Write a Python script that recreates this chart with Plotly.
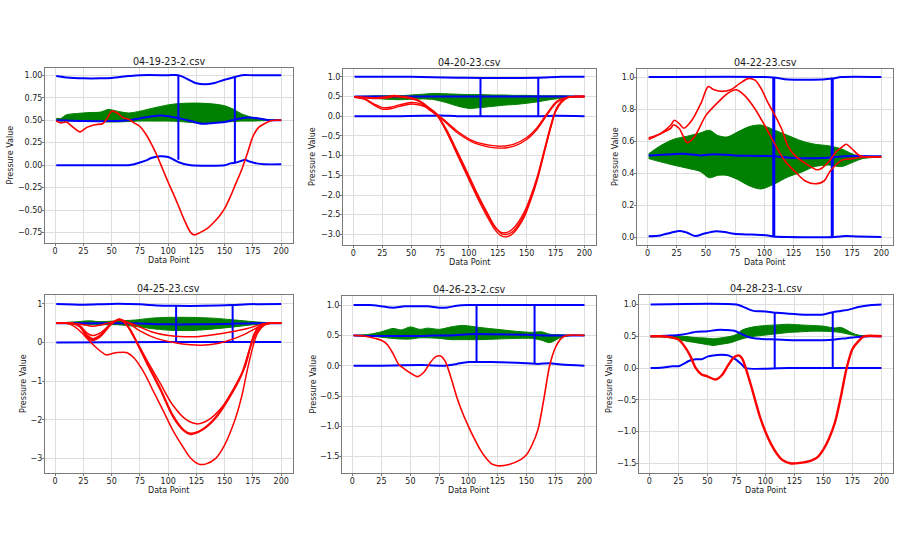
import plotly.graph_objects as go

# ---------------- data ----------------
TITLES = ["04-19-23-2.csv", "04-20-23.csv", "04-22-23.csv",
          "04-25-23.csv", "04-26-23-2.csv", "04-28-23-1.csv"]
X_TICKS = [0, 25, 50, 75, 100, 125, 150, 175, 200]
X_RANGE = [-8.95, 209.95]

# ---- panel 1 : 04-19-23-2.csv
P1_RED_X = [1, 5, 10, 16, 22, 28, 35, 42, 46, 50, 55, 60, 65, 70, 75, 80, 85, 90, 95, 100,
            105, 110, 115, 120, 123, 128, 135, 140, 145, 150, 155, 160, 165, 170, 175, 180, 185, 190, 195, 200]
P1_RED_Y = [0.49, 0.47, 0.48, 0.42, 0.37, 0.42, 0.45, 0.46, 0.52, 0.60, 0.58, 0.53, 0.51, 0.47, 0.43, 0.35, 0.24, 0.11, -0.04, -0.19,
            -0.33, -0.48, -0.63, -0.75, -0.775, -0.75, -0.70, -0.64, -0.57, -0.48, -0.35, -0.20, -0.05, 0.13, 0.32, 0.42, 0.46, 0.49, 0.50, 0.50]
P1_TOP_X = [1, 10, 25, 40, 50, 65, 75, 100, 109, 115, 125, 133, 140, 150, 159, 165, 175, 200]
P1_TOP_Y = [0.99, 0.975, 0.965, 0.965, 0.97, 0.99, 1.0, 1.0, 1.0, 0.97, 0.91, 0.90, 0.91, 0.95, 0.98, 1.0, 1.0, 1.0]
P1_MID_X = [1, 25, 50, 65, 75, 90, 100, 110, 120, 130, 140, 150, 160, 170, 180, 190, 200]
P1_MID_Y = [0.50, 0.49, 0.49, 0.50, 0.52, 0.55, 0.545, 0.52, 0.49, 0.46, 0.47, 0.48, 0.51, 0.53, 0.52, 0.50, 0.50]
P1_BOT_X = [1, 30, 65, 70, 75, 80, 85, 93, 100, 105, 110, 115, 120, 150, 155, 160, 165, 168, 172, 178, 185, 200]
P1_BOT_Y = [0.0, 0.0, 0.0, 0.01, 0.03, 0.05, 0.08, 0.10, 0.09, 0.06, 0.03, 0.01, 0.0, 0.0, 0.02, 0.03, 0.05, 0.06, 0.04, 0.02, 0.01, 0.01]
P1_VX = [109, 159]
P1_VTOP = [1.0, 0.98]
P1_VBOT = [0.06, 0.03]
P1_BAND_X = [1, 5, 10, 20, 30, 40, 47, 55, 65, 75, 85, 100, 110, 125, 140, 150, 158, 165, 175, 185, 200]
P1_BAND_UP = [0.52, 0.52, 0.56, 0.575, 0.585, 0.59, 0.62, 0.60, 0.58, 0.60, 0.63, 0.67, 0.685, 0.69, 0.68, 0.66, 0.62, 0.57, 0.53, 0.51, 0.50]
P1_BAND_LO = [0.49, 0.49, 0.49, 0.49, 0.49, 0.485, 0.48, 0.48, 0.485, 0.49, 0.49, 0.49, 0.485, 0.47, 0.47, 0.48, 0.485, 0.49, 0.49, 0.495, 0.50]

# ---- panel 2 : 04-20-23.csv
P2_RA_X = [1, 10, 18, 25, 32, 40, 50, 55, 62, 70, 74, 78, 90, 104, 119, 127, 139, 150, 159, 168, 176, 185, 195, 200]
P2_RA1_Y = [0.48, 0.44, 0.31, 0.22, 0.23, 0.29, 0.35, 0.34, 0.27, 0.1, 0.02, -0.08, -0.38, -0.63, -0.74, -0.76, -0.71, -0.54, -0.29, 0.09, 0.38, 0.48, 0.5, 0.5]
P2_RA2_Y = [0.48, 0.43, 0.28, 0.18, 0.19, 0.25, 0.31, 0.3, 0.24, 0.07, -0.01, -0.11, -0.42, -0.67, -0.79, -0.81, -0.76, -0.59, -0.33, 0.05, 0.35, 0.47, 0.5, 0.5]
P2_RB_X = [1, 10, 20, 30, 35, 40, 50, 58, 65, 72, 81, 90, 99, 107, 116, 122, 128, 133, 139, 148,
           153, 159, 165, 171, 175, 180, 185, 191, 200]
P2_RB1_Y = [0.49, 0.48, 0.46, 0.47, 0.5, 0.49, 0.45, 0.36, 0.2, 0.03, -0.4, -0.95, -1.5, -2.0, -2.5, -2.8, -2.95, -2.95, -2.83, -2.43,
            -2.07, -1.55, -0.88, -0.21, 0.16, 0.38, 0.48, 0.5, 0.5]
P2_RB2_Y = [0.49, 0.47, 0.45, 0.48, 0.52, 0.5, 0.46, 0.37, 0.22, 0.05, -0.36, -0.9, -1.45, -1.95, -2.46, -2.78, -2.98, -3.0, -2.9, -2.5,
            -2.13, -1.6, -0.92, -0.25, 0.13, 0.36, 0.47, 0.5, 0.5]
P2_RB3_Y = [0.49, 0.48, 0.47, 0.5, 0.53, 0.51, 0.47, 0.38, 0.23, 0.06, -0.42, -0.98, -1.55, -2.05, -2.56, -2.86, -3.04, -3.06, -2.95, -2.55,
            -2.17, -1.63, -0.95, -0.27, 0.12, 0.35, 0.47, 0.5, 0.5]
P2_TOP_X = [1, 50, 90, 110, 130, 160, 180, 200]
P2_TOP_Y = [1.0, 1.0, 0.98, 0.97, 0.97, 0.98, 1.0, 1.0]
P2_MID_X = [1, 100, 200]
P2_MID_Y = [0.5, 0.5, 0.5]
P2_BOT_X = [1, 40, 60, 75, 90, 110, 140, 160, 175, 200]
P2_BOT_Y = [0.0, 0.0, 0.01, 0.02, 0.0, 0.0, 0.0, 0.0, 0.01, 0.0]
P2_VX = [110, 160]
P2_VTOP = [0.97, 0.98]
P2_VBOT = [0.0, 0.0]
P2_BAND_X = [1, 10, 20, 30, 40, 50, 60, 70, 80, 90, 100, 110, 120, 130, 140, 150, 160, 170, 180, 190, 200]
P2_BAND_UP = [0.50, 0.51, 0.52, 0.52, 0.52, 0.54, 0.56, 0.58, 0.57, 0.56, 0.55, 0.55, 0.54, 0.54, 0.53, 0.53, 0.52, 0.52, 0.52, 0.51, 0.50]
P2_BAND_LO = [0.48, 0.47, 0.45, 0.43, 0.42, 0.43, 0.44, 0.42, 0.35, 0.26, 0.20, 0.22, 0.25, 0.28, 0.30, 0.33, 0.37, 0.42, 0.46, 0.49, 0.50]

# ---- panel 3 : 04-22-23.csv
P3_RA_X = [1, 11, 20, 23, 27, 31, 38, 46, 52, 57, 64, 71, 79, 86, 92, 97, 103, 109, 115, 120,
           126, 135, 145, 149, 155, 161, 166, 170, 175, 181, 189, 200]
P3_RA_Y = [0.62, 0.646, 0.70, 0.73, 0.71, 0.68, 0.73, 0.84, 0.94, 0.92, 0.91, 0.92, 0.96, 0.99, 0.98, 0.93, 0.84, 0.76, 0.67, 0.57,
           0.51, 0.46, 0.42, 0.43, 0.47, 0.53, 0.56, 0.58, 0.55, 0.51, 0.5, 0.5]
P3_RB_X = [1, 10, 20, 22, 27, 34, 40, 50, 60, 69, 76, 83, 92, 100, 109, 117, 126, 135, 143, 151,
           156, 161, 166, 175, 185, 200]
P3_RB_Y = [0.61, 0.64, 0.68, 0.70, 0.68, 0.59, 0.625, 0.76, 0.84, 0.90, 0.92, 0.885, 0.80, 0.70, 0.58, 0.48, 0.41, 0.35, 0.333, 0.35,
           0.41, 0.45, 0.48, 0.49, 0.5, 0.5]
P3_TOP_X = [1, 100, 110, 120, 150, 158, 166, 200]
P3_TOP_Y = [1.0, 1.0, 0.995, 0.985, 0.985, 0.99, 1.0, 1.0]
P3_MID_X = [1, 17, 31, 45, 57, 74, 103, 126, 149, 160, 175, 200]
P3_MID_Y = [0.51, 0.515, 0.52, 0.51, 0.517, 0.51, 0.506, 0.494, 0.494, 0.5, 0.506, 0.504]
P3_BOT_X = [1, 11, 20, 28, 34, 41, 48, 57, 66, 74, 89, 103, 108, 120, 160, 169, 180, 200]
P3_BOT_Y = [0.005, 0.01, 0.027, 0.0375, 0.027, 0.006, 0.02, 0.035, 0.031, 0.02, 0.015, 0.01, 0.003, 0.0, 0.0, 0.006, 0.003, 0.0]
P3_VX = [108, 158]
P3_VTOP = [1.0, 0.995]
P3_VBOT = [0.0, 0.0]
P3_BAND_X = [1, 11, 22, 34, 45, 53, 60, 68, 77, 87, 97, 109, 120, 132, 143, 155, 166, 175, 184, 200]
P3_BAND_UP = [0.52, 0.57, 0.61, 0.63, 0.65, 0.667, 0.635, 0.625, 0.656, 0.69, 0.70, 0.667, 0.635, 0.6, 0.58, 0.57, 0.55, 0.52, 0.5, 0.5]
P3_BAND_LO = [0.49, 0.47, 0.45, 0.43, 0.41, 0.37, 0.385, 0.385, 0.36, 0.32, 0.30, 0.333, 0.375, 0.406, 0.44, 0.45, 0.44, 0.465, 0.49, 0.5]

# ---- panel 4 : 04-25-23.csv
P4_R1_X = [1, 15, 25, 33, 40, 50, 57, 65, 75, 85, 100, 115, 125, 140, 155, 170, 180, 190, 200]
P4_R1_Y = [0.5, 0.5, 0.46, 0.42, 0.45, 0.53, 0.58, 0.52, 0.4, 0.28, 0.18, 0.15, 0.15, 0.2, 0.27, 0.36, 0.45, 0.5, 0.5]
P4_R2_X = [1, 15, 22, 28, 33, 40, 50, 57, 65, 75, 90, 105, 120, 130, 145, 160, 170, 180, 190, 200]
P4_R2_Y = [0.5, 0.5, 0.43, 0.25, 0.18, 0.25, 0.5, 0.6, 0.5, 0.3, 0.1, 0.0, -0.06, -0.07, -0.02, 0.12, 0.25, 0.4, 0.5, 0.5]
P4_R3_X = [1, 15, 22, 28, 33, 40, 50, 57, 65, 73, 81, 93, 104, 116, 126, 136, 148, 159, 168, 173, 178, 184, 190, 200]
P4_R3_Y = [0.5, 0.5, 0.42, 0.2, 0.1, 0.2, 0.5, 0.6, 0.4, -0.02, -0.45, -1.06, -1.62, -2.0, -2.11, -2.0, -1.66, -1.14, -0.63, -0.1, 0.24, 0.45, 0.5, 0.5]
P4_R4_X = [1, 15, 22, 28, 33, 40, 50, 57, 64, 73, 81, 93, 104, 113, 120, 130, 142, 153, 165, 172, 176, 182, 190, 200]
P4_R4_Y = [0.5, 0.5, 0.4, 0.15, 0.05, 0.15, 0.48, 0.6, 0.42, -0.06, -0.54, -1.23, -1.92, -2.27, -2.38, -2.27, -1.96, -1.49, -0.84, -0.19, 0.2, 0.45, 0.5, 0.5]
P4_R4B_Y = [0.5, 0.5, 0.41, 0.17, 0.08, 0.17, 0.49, 0.59, 0.43, -0.03, -0.5, -1.18, -1.87, -2.24, -2.35, -2.25, -1.93, -1.45, -0.8, -0.16, 0.22, 0.46, 0.5, 0.5]
P4_R5_X = [1, 10, 15, 20, 24, 30, 37, 45, 50, 55, 63, 70, 79, 87, 96, 104, 113, 120, 127, 133,
           142, 150, 159, 165, 170, 175, 179, 185, 190, 200]
P4_R5_Y = [0.5, 0.5, 0.45, 0.35, 0.24, 0.05, -0.15, -0.32, -0.29, -0.26, -0.26, -0.41, -0.8, -1.27, -1.79, -2.27, -2.7, -3.0, -3.15, -3.15,
           -3.0, -2.65, -2.01, -1.4, -0.71, -0.1, 0.24, 0.45, 0.5, 0.5]
P4_TOP_X = [1, 25, 50, 75, 90, 107, 130, 157, 170, 200]
P4_TOP_Y = [1.0, 0.98, 1.0, 0.99, 0.96, 0.95, 0.95, 0.97, 0.99, 1.0]
P4_MID_X = [1, 50, 75, 100, 125, 150, 175, 200]
P4_MID_Y = [0.5, 0.5, 0.49, 0.47, 0.47, 0.48, 0.5, 0.5]
P4_BOT_X = [1, 100, 150, 200]
P4_BOT_Y = [0.0, 0.01, 0.01, 0.01]
P4_VX = [107, 157]
P4_VTOP = [0.95, 0.97]
P4_VBOT = [0.02, 0.02]
P4_BAND_X = [1, 10, 20, 30, 40, 55, 70, 85, 100, 120, 140, 160, 175, 190, 200]
P4_BAND_UP = [0.50, 0.52, 0.54, 0.56, 0.54, 0.56, 0.58, 0.63, 0.65, 0.65, 0.63, 0.58, 0.54, 0.51, 0.50]
P4_BAND_LO = [0.50, 0.49, 0.47, 0.46, 0.46, 0.46, 0.42, 0.36, 0.32, 0.31, 0.35, 0.41, 0.46, 0.49, 0.50]

# ---- panel 5 : 04-26-23-2.csv
P5_RED_X = [1, 10, 20, 25, 30, 35, 40, 45, 50, 56, 62, 67, 72, 76, 80, 85, 90, 95, 100, 105,
            110, 115, 120, 125, 135, 145, 150, 155, 160, 165, 170, 175, 180, 185, 200]
P5_RED_Y = [0.5, 0.49, 0.45, 0.42, 0.35, 0.2, 0.02, -0.055, -0.12, -0.18, -0.1, 0.05, 0.15, 0.16, 0.07, -0.2, -0.52, -0.78, -1.0, -1.2,
            -1.38, -1.52, -1.62, -1.65, -1.63, -1.55, -1.47, -1.3, -1.05, -0.55, 0.0, 0.3, 0.45, 0.5, 0.5]
P5_TOP_X = [1, 15, 25, 35, 45, 55, 65, 75, 82, 90, 100, 200]
P5_TOP_Y = [1.0, 1.0, 0.98, 0.956, 0.98, 0.98, 0.98, 0.955, 0.96, 0.99, 1.0, 1.0]
P5_MID_X = [1, 20, 40, 60, 70, 85, 100, 120, 150, 165, 200]
P5_MID_Y = [0.5, 0.49, 0.49, 0.49, 0.5, 0.5, 0.52, 0.52, 0.51, 0.5, 0.5]
P5_BOT_X = [1, 20, 60, 80, 90, 100, 120, 150, 160, 170, 180, 200]
P5_BOT_Y = [0.0, 0.0, 0.01, 0.0, 0.03, 0.06, 0.06, 0.04, 0.03, 0.04, 0.02, 0.0]
P5_VX = [107, 157]
P5_VTOP = [1.0, 1.0]
P5_VBOT = [0.066, 0.027]
P5_BAND_X = [1, 15, 25, 35, 42, 50, 58, 65, 75, 85, 95, 110, 125, 140, 155, 163, 170, 180, 190, 200]
P5_BAND_UP = [0.5, 0.52, 0.56, 0.615, 0.59, 0.64, 0.6, 0.62, 0.6, 0.64, 0.665, 0.63, 0.6, 0.57, 0.55, 0.56, 0.52, 0.51, 0.5, 0.5]
P5_BAND_LO = [0.5, 0.49, 0.47, 0.45, 0.44, 0.44, 0.46, 0.46, 0.45, 0.43, 0.43, 0.43, 0.44, 0.45, 0.45, 0.42, 0.38, 0.47, 0.5, 0.5]

# ---- panel 6 : 04-28-23-1.csv
P6_RED_X = [1, 10, 20, 25, 30, 35, 40, 45, 50, 57, 63, 68, 73, 77, 80, 83, 88, 95, 100, 105,
            110, 115, 122, 130, 140, 145, 150, 155, 160, 165, 170, 175, 180, 185, 200]
P6_RED_Y = [0.5, 0.5, 0.48, 0.45, 0.35, 0.2, 0.0, -0.1, -0.13, -0.18, -0.1, 0.05, 0.17, 0.2, 0.15, 0.0, -0.3, -0.75, -1.0, -1.2,
            -1.35, -1.45, -1.5, -1.49, -1.45, -1.4, -1.28, -1.1, -0.85, -0.45, 0.0, 0.3, 0.42, 0.5, 0.5]
P6_TOP_X = [1, 75, 80, 85, 90, 100, 110, 125, 135, 150, 158, 165, 172, 180, 190, 200]
P6_TOP_Y = [1.0, 1.0, 0.97, 0.93, 0.9, 0.89, 0.87, 0.85, 0.84, 0.845, 0.88, 0.9, 0.92, 0.96, 0.99, 1.0]
P6_MID_X = [1, 15, 25, 35, 40, 50, 58, 65, 72, 78, 85, 95, 110, 125, 140, 150, 160, 170, 180, 190, 200]
P6_MID_Y = [0.5, 0.51, 0.52, 0.55, 0.57, 0.58, 0.6, 0.6, 0.59, 0.55, 0.49, 0.46, 0.45, 0.44, 0.44, 0.44, 0.45, 0.47, 0.49, 0.5, 0.5]
P6_BOT_X = [1, 10, 20, 25, 35, 40, 45, 50, 55, 62, 68, 75, 80, 83, 120, 200]
P6_BOT_Y = [0.0, 0.005, 0.03, 0.03, 0.12, 0.14, 0.14, 0.18, 0.2, 0.21, 0.2, 0.13, 0.05, 0.0, 0.0, 0.0]
P6_VX = [108, 158]
P6_VTOP = [0.87, 0.88]
P6_VBOT = [0.0, 0.0]
P6_BAND_X = [1, 10, 20, 30, 40, 50, 55, 60, 70, 75, 80, 90, 100, 110, 120, 130, 140, 150, 160, 165, 170, 175, 180, 190, 200]
P6_BAND_UP = [0.5, 0.51, 0.51, 0.5, 0.48, 0.47, 0.46, 0.47, 0.5, 0.53, 0.6, 0.65, 0.67, 0.68, 0.69, 0.68, 0.67, 0.66, 0.63, 0.64, 0.6, 0.55, 0.52, 0.5, 0.5]
P6_BAND_LO = [0.49, 0.49, 0.47, 0.43, 0.4, 0.37, 0.355, 0.37, 0.4, 0.43, 0.46, 0.5, 0.52, 0.54, 0.56, 0.57, 0.58, 0.58, 0.57, 0.56, 0.54, 0.52, 0.51, 0.5, 0.5]

# y tick labels per panel
P1_YTICKS = [-0.75, -0.5, -0.25, 0.0, 0.25, 0.5, 0.75, 1.0]
P2_YTICKS = [-3.0, -2.5, -2.0, -1.5, -1.0, -0.5, 0.0, 0.5, 1.0]
P3_YTICKS = [0.0, 0.2, 0.4, 0.6, 0.8, 1.0]
P4_YTICKS = [-3, -2, -1, 0, 1]
P5_YTICKS = [-1.5, -1.0, -0.5, 0.0, 0.5, 1.0]
P6_YTICKS = [-1.5, -1.0, -0.5, 0.0, 0.5, 1.0]

# ---------------- styling / layout ----------------
RED = "#ff0000"
BLUE = "#0000ff"
GREEN = "#008000"
FONT = "DejaVu Sans"
SPINE = "#7a7a7a"
GRID = "#dedede"
TXT = "#1a1a1a"

panels = [
    dict(title=TITLES[0], dx=[45, 292.5], dy=[68, 243], yr=[-0.865, 1.08], yt=P1_YTICKS, fmt=".2f", ylab_off=35,
         reds=[(P1_RED_X, P1_RED_Y)], rw=1.6,
         top=(P1_TOP_X, P1_TOP_Y), mid=(P1_MID_X, P1_MID_Y), bot=(P1_BOT_X, P1_BOT_Y),
         vx=P1_VX, vtop=P1_VTOP, vbot=P1_VBOT, vw=2,
         band=(P1_BAND_X, P1_BAND_UP, P1_BAND_LO)),
    dict(title=TITLES[1], dx=[343, 596], dy=[69, 245], yr=[-3.27, 1.2], yt=P2_YTICKS, fmt=".1f", ylab_off=30,
         reds=[(P2_RA_X, P2_RA1_Y), (P2_RA_X, P2_RA2_Y), (P2_RB_X, P2_RB1_Y), (P2_RB_X, P2_RB2_Y), (P2_RB_X, P2_RB3_Y)], rw=1.4,
         top=(P2_TOP_X, P2_TOP_Y), mid=(P2_MID_X, P2_MID_Y), bot=(P2_BOT_X, P2_BOT_Y),
         vx=P2_VX, vtop=P2_VTOP, vbot=P2_VBOT, vw=2,
         band=(P2_BAND_X, P2_BAND_UP, P2_BAND_LO)),
    dict(title=TITLES[2], dx=[637, 893], dy=[69, 245], yr=[-0.05, 1.05], yt=P3_YTICKS, fmt=".1f", ylab_off=21,
         reds=[(P3_RA_X, P3_RA_Y), (P3_RB_X, P3_RB_Y)], rw=1.6,
         top=(P3_TOP_X, P3_TOP_Y), mid=(P3_MID_X, P3_MID_Y), bot=(P3_BOT_X, P3_BOT_Y),
         vx=P3_VX, vtop=P3_VTOP, vbot=P3_VBOT, vw=3,
         band=(P3_BAND_X, P3_BAND_UP, P3_BAND_LO)),
    dict(title=TITLES[3], dx=[45, 292.5], dy=[295, 473], yr=[-3.38, 1.23], yt=P4_YTICKS, fmt="d", ylab_off=22,
         reds=[(P4_R1_X, P4_R1_Y), (P4_R2_X, P4_R2_Y), (P4_R3_X, P4_R3_Y), (P4_R4_X, P4_R4_Y),
               (P4_R4_X, P4_R4B_Y), (P4_R5_X, P4_R5_Y)], rw=1.5,
         top=(P4_TOP_X, P4_TOP_Y), mid=(P4_MID_X, P4_MID_Y), bot=(P4_BOT_X, P4_BOT_Y),
         vx=P4_VX, vtop=P4_VTOP, vbot=P4_VBOT, vw=2,
         band=(P4_BAND_X, P4_BAND_UP, P4_BAND_LO)),
    dict(title=TITLES[4], dx=[342, 596], dy=[296, 473], yr=[-1.77, 1.15], yt=P5_YTICKS, fmt=".1f", ylab_off=29,
         reds=[(P5_RED_X, P5_RED_Y)], rw=1.6,
         top=(P5_TOP_X, P5_TOP_Y), mid=(P5_MID_X, P5_MID_Y), bot=(P5_BOT_X, P5_BOT_Y),
         vx=P5_VX, vtop=P5_VTOP, vbot=P5_VBOT, vw=2,
         band=(P5_BAND_X, P5_BAND_UP, P5_BAND_LO)),
    dict(title=TITLES[5], dx=[639, 893], dy=[295, 473], yr=[-1.65, 1.15], yt=P6_YTICKS, fmt=".1f", ylab_off=30,
         reds=[(P6_RED_X, P6_RED_Y)], rw=2.4,
         top=(P6_TOP_X, P6_TOP_Y), mid=(P6_MID_X, P6_MID_Y), bot=(P6_BOT_X, P6_BOT_Y),
         vx=P6_VX, vtop=P6_VTOP, vbot=P6_VBOT, vw=2,
         band=(P6_BAND_X, P6_BAND_UP, P6_BAND_LO)),
]

W, H = 900, 550
fig = go.Figure()
layout = dict(width=W, height=H, margin=dict(l=0, r=0, t=0, b=0),
              paper_bgcolor="white", plot_bgcolor="white", showlegend=False,
              font=dict(family=FONT, size=8, color=TXT))
annotations = []


def line(xa, ya, x, y, color, width, shape="spline"):
    fig.add_trace(go.Scatter(x=x, y=y, mode="lines", xaxis=xa, yaxis=ya,
                             line=dict(color=color, width=width, shape=shape, smoothing=0.8),
                             hoverinfo="skip", showlegend=False))


for i, p in enumerate(panels):
    n = "" if i == 0 else str(i + 1)
    xa, ya = "x" + n, "y" + n
    xdom = [p["dx"][0] / W, p["dx"][1] / W]
    ydom = [1 - p["dy"][1] / H, 1 - p["dy"][0] / H]

    # green band (many green traces in the original -> filled envelope)
    bx, bup, blo = p["band"]
    line(xa, ya, bx, blo, GREEN, 1)
    fig.add_trace(go.Scatter(x=bx, y=bup, mode="lines", xaxis=xa, yaxis=ya, fill="tonexty",
                             fillcolor=GREEN, line=dict(color=GREEN, width=1, shape="spline", smoothing=0.8),
                             hoverinfo="skip", showlegend=False))
    # blue lines
    for key in ("top", "mid", "bot"):
        bxx, byy = p[key]
        line(xa, ya, bxx, byy, BLUE, 2)
    for vx, vt, vb in zip(p["vx"], p["vtop"], p["vbot"]):
        line(xa, ya, [vx, vx], [vb, vt], BLUE, p["vw"], shape="linear")
    # red curves
    for rx, ry in p["reds"]:
        line(xa, ya, rx, ry, RED, p["rw"])

    common = dict(showline=True, mirror=True, linecolor=SPINE, linewidth=1,
                  ticks="outside", ticklen=2, tickwidth=1, tickcolor=SPINE,
                  ticklabelstandoff=-2,
                  showgrid=True, gridcolor=GRID, gridwidth=1, zeroline=False,
                  automargin=False, tickfont=dict(family=FONT, size=8, color=TXT))
    layout["xaxis" + n] = dict(domain=xdom, range=X_RANGE, tickmode="array", tickvals=X_TICKS,
                               anchor=ya, **common)
    layout["yaxis" + n] = dict(domain=ydom, range=p["yr"], tickmode="array", tickvals=p["yt"],
                               tickformat=p["fmt"], anchor=xa, **common)

    xc = (xdom[0] + xdom[1]) / 2
    yc = (ydom[0] + ydom[1]) / 2
    annotations.append(dict(text=p["title"], xref="paper", yref="paper", x=xc, y=ydom[1],
                            xanchor="center", yanchor="middle", yshift=7, showarrow=False,
                            font=dict(family=FONT, size=9.6, color=TXT)))
    annotations.append(dict(text="Data Point", xref="paper", yref="paper", x=xc, y=ydom[0],
                            xanchor="center", yanchor="middle", yshift=-17, showarrow=False,
                            font=dict(family=FONT, size=8, color=TXT)))
    annotations.append(dict(text="Pressure Value", xref="paper", yref="paper", x=xdom[0], y=yc,
                            xanchor="center", yanchor="middle", xshift=-p["ylab_off"], textangle=-90,
                            showarrow=False, font=dict(family=FONT, size=8, color=TXT)))

layout["annotations"] = annotations
fig.update_layout(**layout)
fig.write_html("out.html", config={"displayModeBar": False, "staticPlot": True},
               post_script="document.body.style.margin='0px';")
